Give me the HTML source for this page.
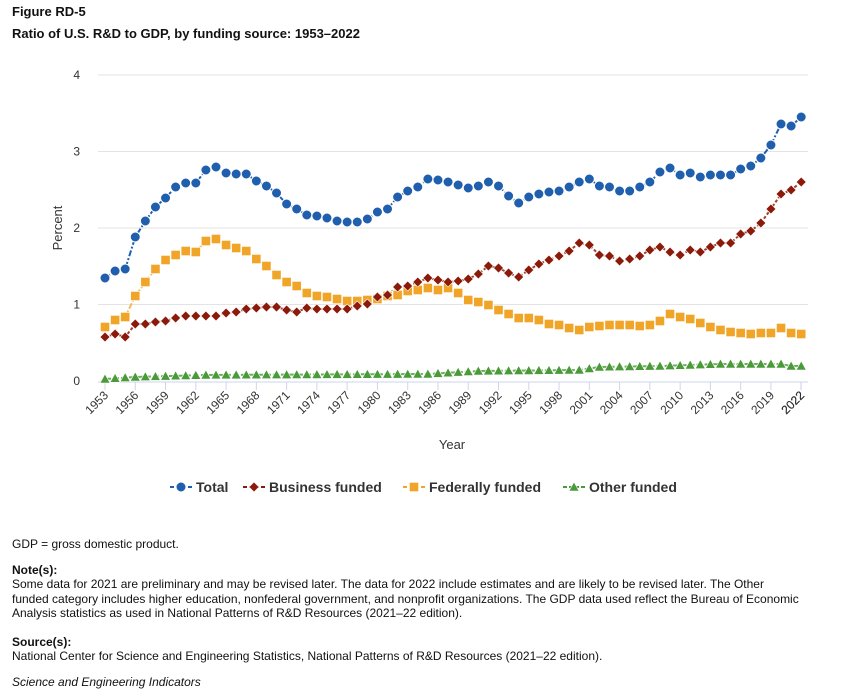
<!DOCTYPE html>
<html><head><meta charset="utf-8"><style>
body{margin:0;background:#fff;font-family:"Liberation Sans",sans-serif;color:#111;width:852px;height:697px;overflow:hidden;position:relative}
.t{position:absolute;left:12px;font-size:12px;line-height:14.5px;white-space:nowrap}
</style></head><body>
<div class="t" style="top:5px;font-weight:bold;font-size:13px">Figure RD-5</div>
<div class="t" style="top:27px;font-weight:bold;font-size:13px">Ratio of U.S. R&amp;D to GDP, by funding source: 1953–2022</div>
<svg id="s" width="852" height="520" style="position:absolute;left:0;top:0" font-family="Liberation Sans, sans-serif"></svg>
<div class="t" style="top:537px">GDP = gross domestic product.</div>
<div class="t" style="top:563px;font-weight:bold">Note(s):</div>
<div class="t" style="top:577px">Some data for 2021 are preliminary and may be revised later. The data for 2022 include estimates and are likely to be revised later. The Other<br>funded category includes higher education, nonfederal government, and nonprofit organizations. The GDP data used reflect the Bureau of Economic<br>Analysis statistics as used in National Patterns of R&amp;D Resources (2021–22 edition).</div>
<div class="t" style="top:635px;font-weight:bold">Source(s):</div>
<div class="t" style="top:649px">National Center for Science and Engineering Statistics, National Patterns of R&amp;D Resources (2021–22 edition).</div>
<div class="t" style="top:675px;font-style:italic">Science and Engineering Indicators</div>
<script>
var T=[278,271,269,237,221,207,198,187,183,183,170,167,173,174,174,181,186,193,204,209,215,216,218,221,222,222,219,212,209,197,191,187,179,180,182,185,188,186,182,186,196,203,197,194,192,191,187,182,179,186,187,191,191,187,182,172,168,175,173,177,175,175,175,169,166,158,145,124,126,117];
var B=[337,334,337,324,324,322,321,318,316,316,316,316,313,312,309,308,307,307,310,312,308,309,309,309,309,306,304,297,295,287,286,282,278,280,282,281,279,274,266,268,273,277,270,264,260,256,251,243,245,255,256,261,259,256,250,247,252,255,250,252,247,243,243,234,231,223,209,194,190,182];
var F=[327,320,317,296,282,269,260,255,251,252,241,239,245,248,251,259,266,275,282,286,293,296,297,299,301,301,300,299,296,295,291,290,288,290,288,293,300,302,305,310,314,318,318,320,324,325,328,330,327,326,325,325,325,326,325,321,314,317,319,323,327,330,332,333,334,333,333,328,333,334];
var kp=[[1953,379],[1956,377],[1963,375],[1985,374],[1990,371],[2000,370],[2002,367],[2008,366],[2014,364],[2020,364],[2021,366],[2022,366]];
var O=[];for(var y=1953;y<=2022;y++){for(var k=0;k<kp.length-1;k++){if(y>=kp[k][0]&&y<=kp[k+1][0]){var a=kp[k],b=kp[k+1];O.push(a[1]+(b[1]-a[1])*(y-a[0])/(b[0]-a[0]));break;}}}
function X(i){return 105+i*10.09}
var h='';
[381,304.5,228,151.5,75].forEach(function(y,i){if(i>0)h+='<line x1="98" x2="808" y1="'+y+'" y2="'+y+'" stroke="#e3e3e3"/>';h+='<text x="80" y="'+(y+4)+'" font-size="12" fill="#333" text-anchor="end">'+i+'</text>';});
h+='<line x1="98" x2="808" y1="382" y2="382" stroke="#ccd6eb"/>';
for(var i=0;i<70;i+=3){var x=X(i);h+='<line x1="'+x+'" x2="'+x+'" y1="382" y2="390" stroke="#ccd6eb"/>';h+='<text transform="translate('+(x+4)+',396) rotate(-45)" font-size="12" fill="#333" text-anchor="end">'+(1953+i)+'</text>';}
h+='<line x1="801" x2="801" y1="382" y2="390" stroke="#ccd6eb"/><text transform="translate(805,396) rotate(-45)" font-size="12" fill="#333" text-anchor="end">2022</text>';
h+='<text transform="translate(62,228) rotate(-90)" font-size="13" fill="#333" text-anchor="middle">Percent</text>';
h+='<text x="452" y="449" font-size="13" fill="#333" text-anchor="middle">Year</text>';
function line(d,c,dash){var p=d.map(function(v,i){return X(i).toFixed(1)+','+v}).join(' ');return '<polyline points="'+p+'" fill="none" stroke="'+c+'" stroke-width="2" '+(dash?'stroke-dasharray="'+dash+'"':'')+'/>';}
function circ(x,y){return '<circle cx="'+x+'" cy="'+y+'" r="5" fill="#1f5fad" stroke="#fff" stroke-width="1"/>'}
function dia(x,y){return '<path d="M'+x+' '+(y-5)+'L'+(x+5)+' '+y+'L'+x+' '+(y+5)+'L'+(x-5)+' '+y+'Z" fill="#8b1a0a" stroke="#fff" stroke-width="0.6"/>'}
function sq(x,y){return '<rect x="'+(x-4.7)+'" y="'+(y-4.7)+'" width="9.4" height="9.4" fill="#f0a428" stroke="#fff" stroke-width="0.8"/>'}
function tri(x,y){return '<path d="M'+x+' '+(y-5)+'L'+(x+5)+' '+(y+4)+'L'+(x-5)+' '+(y+4)+'Z" fill="#4a9a3a" stroke="#fff" stroke-width="0.6"/>'}
h+=line(O,'#6aae5a','6 2')+line(F,'#f5b955','6 2')+line(B,'#a3402e','3 2')+line(T,'#1f5fad','6 2 2 2');
O.forEach(function(v,i){h+=tri(X(i),v)});F.forEach(function(v,i){h+=sq(X(i),v)});B.forEach(function(v,i){h+=dia(X(i),v)});T.forEach(function(v,i){h+=circ(X(i),v)});
var L=[[170,'Total',circ,'#1f5fad'],[243,'Business funded',dia,'#8b1a0a'],[403,'Federally funded',sq,'#f0a428'],[563,'Other funded',tri,'#4a9a3a']];
L.forEach(function(l){h+='<line x1="'+l[0]+'" x2="'+(l[0]+22)+'" y1="487" y2="487" stroke="'+l[3]+'" stroke-width="2" stroke-dasharray="4 2"/>'+l[2](l[0]+11,487)+'<text x="'+(l[0]+26)+'" y="492" font-size="14" font-weight="bold" fill="#333">'+l[1]+'</text>';});
document.getElementById('s').innerHTML=h;
</script>
</body></html>
